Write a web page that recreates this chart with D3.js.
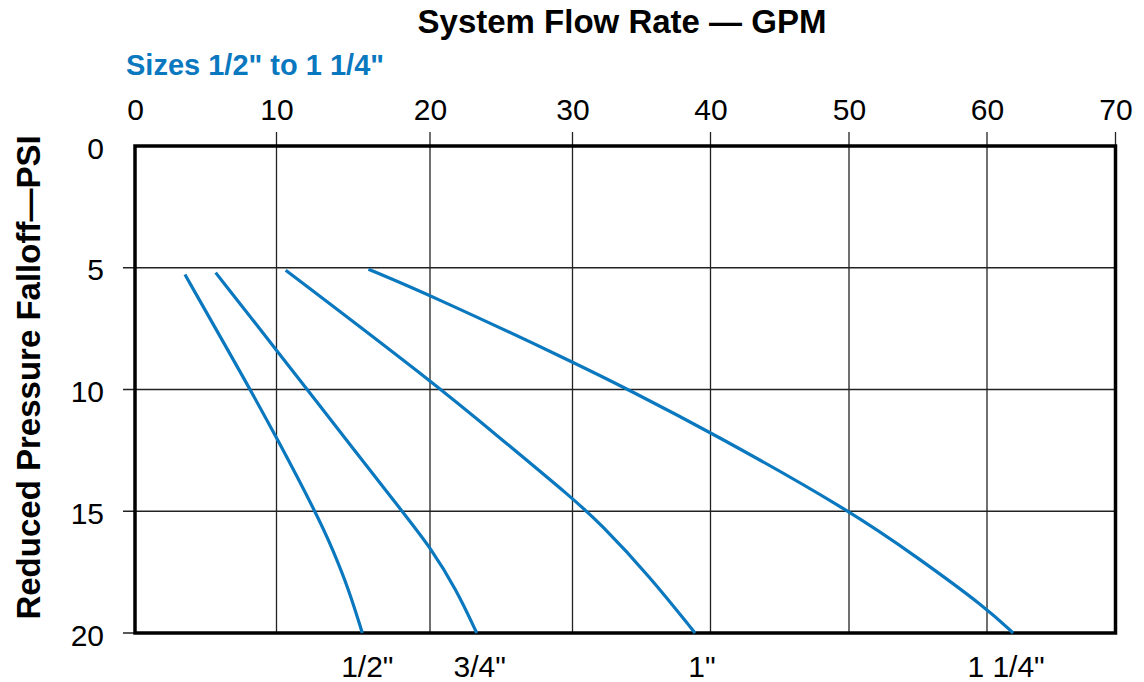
<!DOCTYPE html>
<html>
<head>
<meta charset="utf-8">
<script src="https://cdn.jsdelivr.net/npm/d3@7"></script>
<style>
  html, body { margin: 0; padding: 0; background: #fff; }
  svg { display: block; font-family: "Liberation Sans", Arial, Helvetica, sans-serif; }
</style>
</head>
<body>
<svg id="chart" width="1144" height="682"></svg>
<script>
// ---- Data ----
const chartTitle = "System Flow Rate \u2014 GPM";
const subTitle = "Sizes 1/2\" to 1 1/4\"";
const yTitle = "Reduced Pressure Falloff\u2014PSI";

const xTicks = [0, 10, 20, 30, 40, 50, 60, 70];   // GPM
const yTicks = [0, 5, 10, 15, 20];                 // PSI

const sizeNames = ["1/2\"", "3/4\"", "1\"", "1 1/4\""];

// each curve: [GPM, PSI]
const curveHalf = [[3.53, 5.28], [7.77, 9.61], [10.03, 12.0], [12.66, 15.17], [13.68, 16.59], [14.72, 18.23], [15.59, 20]];
const curveThreeQuarter = [[5.7, 5.2], [9.54, 8.04], [12.07, 10.06], [18.4, 15.18], [20, 16.46], [21.87, 18.23], [23.28, 20]];
const curveOne = [[10.6, 5.1], [20, 9.61], [25.14, 12.1], [30.01, 14.47], [31.99, 15.49], [35.62, 17.69], [38.88, 20]];
const curveOneQuarter = [[15.99, 5.06], [20, 6.12], [30, 8.86], [34.24, 10.06], [40, 11.75], [50, 14.95], [54.9, 16.87], [60, 18.99], [62.03, 20]];

const curves = [curveHalf, curveThreeQuarter, curveOne, curveOneQuarter];

// ---- Layout ----
const svg = d3.select("#chart");
const blue = "#0a78bf";
const fontSize = 30;

// the printed grid is slightly uneven; piecewise scale matches it
const x = d3.scaleLinear()
  .domain(xTicks)
  .range([135, 276.5, 430, 572.5, 710.5, 849, 987, 1115.5]);
const y = d3.scaleLinear().domain([0, 20]).range([146, 633]);

// grid lines
const g = svg.append("g");
g.selectAll("line.vgrid")
  .data(xTicks.filter(d => d > 0))
  .join("line")
  .attr("class", "vgrid")
  .attr("x1", d => x(d)).attr("x2", d => x(d))
  .attr("y1", y(0) - 14).attr("y2", y(20))
  .attr("stroke", "#222").attr("stroke-width", 1.3);

g.selectAll("line.hgrid")
  .data(yTicks.filter(d => d > 0))
  .join("line")
  .attr("class", "hgrid")
  .attr("x1", x(0) - 12).attr("x2", x(70))
  .attr("y1", d => y(d)).attr("y2", d => y(d))
  .attr("stroke", "#222").attr("stroke-width", 1.3);

// frame
svg.append("rect")
  .attr("x", x(0)).attr("y", y(0))
  .attr("width", x(70) - x(0)).attr("height", y(20) - y(0))
  .attr("fill", "none").attr("stroke", "#000").attr("stroke-width", 3.5);

// axes (labels only)
const topAxis = svg.append("g")
  .attr("transform", `translate(0,${y(0)})`)
  .call(d3.axisTop(x).tickValues(xTicks).tickSize(0).tickPadding(26).tickFormat(d3.format("d")));
const leftAxis = svg.append("g")
  .attr("transform", `translate(${x(0)},0)`)
  .call(d3.axisLeft(y).tickValues(yTicks).tickSize(0).tickPadding(31).tickFormat(d3.format("d")));
[topAxis, leftAxis].forEach(a => {
  a.select(".domain").remove();
  a.selectAll("text")
    .attr("font-family", "'Liberation Sans', Arial, sans-serif")
    .attr("font-size", fontSize)
    .attr("fill", "#000");
});
leftAxis.selectAll("text").attr("dy", "0.4em");

// curves
const line = d3.line()
  .x(d => x(d[0]))
  .y(d => y(d[1]))
  .curve(d3.curveBasis);

svg.append("g").selectAll("path")
  .data(curves)
  .join("path")
  .attr("d", line)
  .attr("fill", "none")
  .attr("stroke", blue)
  .attr("stroke-width", 3.2)
  .attr("stroke-linecap", "butt");

// size labels under curve ends
const labelDx = [5, 3, 7, -7];
svg.append("g").selectAll("text")
  .data(curves)
  .join("text")
  .attr("x", (d, i) => x(d[d.length - 1][0]) + labelDx[i])
  .attr("y", 677)
  .attr("text-anchor", "middle")
  .attr("font-size", fontSize)
  .attr("fill", "#000")
  .text((d, i) => sizeNames[i]);

// titles
svg.append("text")
  .attr("x", 622).attr("y", 33)
  .attr("text-anchor", "middle")
  .attr("font-size", 33).attr("font-weight", "bold")
  .attr("fill", "#000")
  .text(chartTitle);

svg.append("text")
  .attr("x", 126).attr("y", 75)
  .attr("font-size", 29).attr("font-weight", "bold")
  .attr("fill", blue)
  .text(subTitle);

svg.append("text")
  .attr("transform", `translate(40,${(y(0) + y(20)) / 2 - 12}) rotate(-90)`)
  .attr("text-anchor", "middle")
  .attr("font-size", 33).attr("font-weight", "bold")
  .attr("fill", "#000")
  .text(yTitle);
</script>
</body>
</html>
